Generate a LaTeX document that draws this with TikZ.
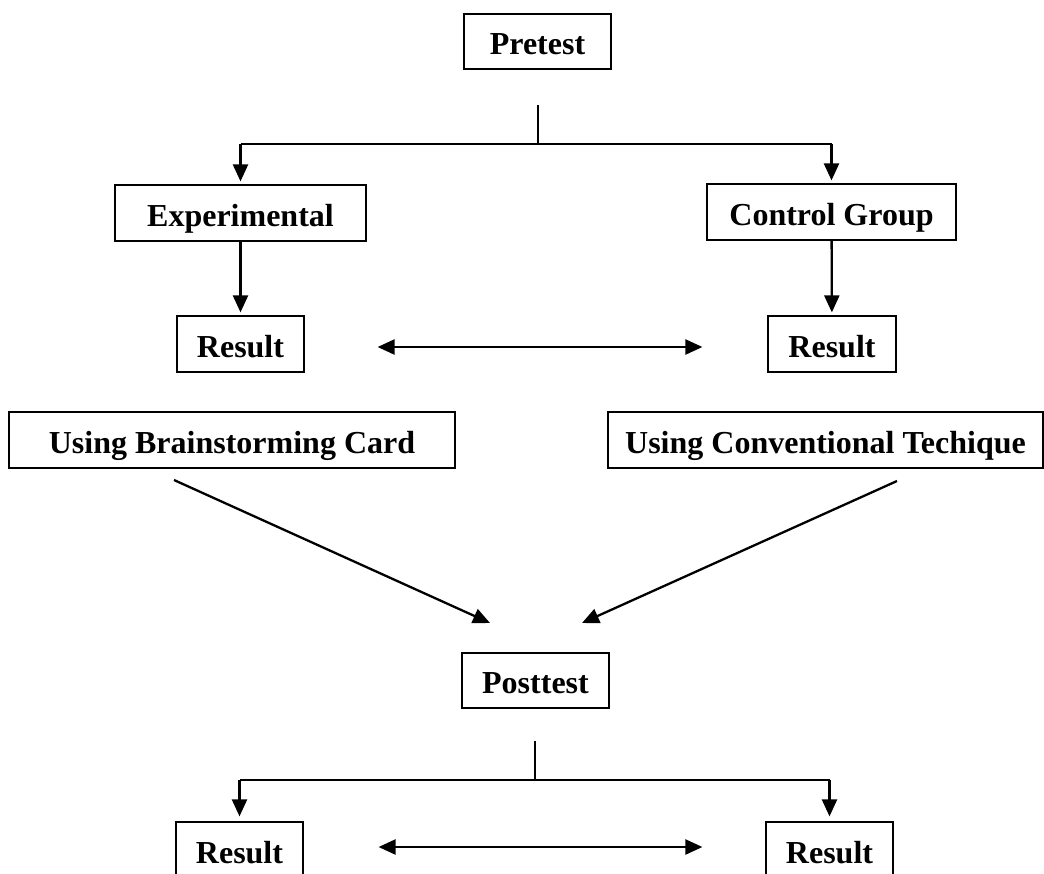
\documentclass[tikz,border=0pt]{standalone}
\usepackage{fontspec}
\setmainfont{Liberation Serif}
\usetikzlibrary{arrows.meta}

\begin{document}
\begin{tikzpicture}[x=0.5pt,y=-0.5pt,->,>={Triangle[length=8.5pt,width=7.5pt]},line width=1.15pt,
  font=\fontsize{16}{19}\selectfont\bfseries]
\tikzstyle{box}=[draw,line width=0.6pt,inner sep=0pt,minimum height=28pt,text height=13.1pt,text depth=0pt]
\tikzstyle{tree}=[-,line width=0.6pt]
\useasboundingbox (0,0) rectangle (1044,873);
\clip (0,0) rectangle (1044,873);
% boxes
\node[box,minimum width=73.5pt,minimum height=27.5pt] (pre) at (537.5,41.5) {Pretest};
\node[box,minimum width=125.5pt] (exp) at (240.5,213) {Experimental};
\node[box,minimum width=124.5pt] (con) at (831.5,212) {Control Group};
\node[box,minimum width=63.5pt] (r1) at (240.5,344) {Result};
\node[box,minimum width=64pt] (r2) at (832,344) {Result};
\node[box,minimum width=223pt] (brain) at (232,440) {Using Brainstorming Card};
\node[box,minimum width=217.5pt] (conv) at (825.5,440) {Using Conventional Techique};
\node[box,minimum width=73.5pt,minimum height=27.5pt] (post) at (535.5,680.5) {Posttest};
\node[box,minimum width=63.5pt] (r3) at (239.5,850) {Result};
\node[box,minimum width=63.5pt] (r4) at (829.5,850) {Result};
% free ends
\coordinate (t1) at (538,105);
\coordinate (s1) at (538,144);
\coordinate (t2) at (535,741);
\coordinate (s2) at (535,780);
\coordinate (b1) at (174,480);
\coordinate (p1) at (490,623);
\coordinate (b2) at (897,481);
\coordinate (p2) at (582,623);
% pretest split
\draw[tree] (t1) -- (s1);
\draw[tree] (exp |- s1) -- (con |- s1);
\draw[shorten >=1.5pt] (exp |- s1) -- (exp);
\draw[shorten >=1.5pt] (con |- s1) -- (con);
\draw[shorten >=1.5pt] (exp) -- (r1);
\draw[shorten >=1.5pt] (con) -- (r2);
\draw[<->,shorten <=36.5pt,shorten >=32.5pt] ([yshift=-1.5pt]r1.east) -- ([yshift=-1.5pt]r2.west);
% treatments
\draw (b1) -- (p1);
\draw (b2) -- (p2);
% posttest split
\draw[tree] (t2) -- (s2);
\draw[tree] (r3 |- s2) -- (r4 |- s2);
\draw[shorten >=2.5pt] (r3 |- s2) -- (r3);
\draw[shorten >=2.5pt] (r4 |- s2) -- (r4);
\draw[<->,shorten <=37.5pt,shorten >=31.5pt] ([yshift=1.5pt]r3.east) -- ([yshift=1.5pt]r4.west);
\end{tikzpicture}
\end{document}
